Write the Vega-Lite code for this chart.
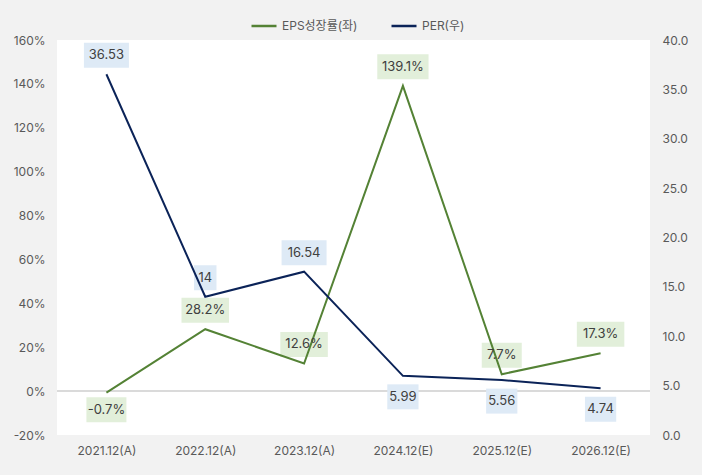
{
  "$schema": "https://vega.github.io/schema/vega-lite/v6.json",
  "width": 593,
  "height": 395,
  "autosize": {"type": "none"},
  "padding": {"left": 57, "top": 40, "right": 52, "bottom": 40},
  "background": "#f2f2f2",
  "config": {
    "font": "Inter, 'Noto Sans CJK KR', sans-serif",
    "locale": {"number": {"decimal": ".", "thousands": ",", "grouping": [3], "currency": ["$", ""], "minus": "-"}},
    "view": {"fill": "white", "stroke": null},
    "axis": {"labelColor": "#595959", "labelFontSize": 12, "grid": false, "domain": false, "ticks": false, "title": null}
  },
  "data": {
    "values": [
      {"period": "2021.12(A)", "eps": -0.007, "per": 36.53},
      {"period": "2022.12(A)", "eps": 0.282, "per": 14},
      {"period": "2023.12(A)", "eps": 0.126, "per": 16.54},
      {"period": "2024.12(E)", "eps": 1.391, "per": 5.99},
      {"period": "2025.12(E)", "eps": 0.077, "per": 5.56},
      {"period": "2026.12(E)", "eps": 0.173, "per": 4.74}
    ]
  },
  "resolve": {"scale": {"y": "independent", "shape": "independent"}},
  "layer": [
    {
      "layer": [
        {
          "mark": {"type": "rule", "color": "#d9d9d9", "strokeWidth": 1},
          "encoding": {"y": {"datum": 0, "type": "quantitative", "scale": {"domain": [-0.2, 1.6]},
            "axis": {"orient": "left", "format": ".0%", "values": [-0.2, 0, 0.2, 0.4, 0.6, 0.8, 1.0, 1.2, 1.4, 1.6], "labelPadding": 12}}}
        },
        {
          "transform": [{"filter": "datum.period != '2021.12(A)'"}],
          "mark": {"type": "point", "filled": true, "opacity": 1, "size": 625, "color": "#e2efda", "strokeWidth": 0, "yOffset": -19},
          "encoding": {
            "x": {"field": "period", "type": "ordinal", "scale": {"type": "point", "padding": 0.5}, "axis": {"labelAngle": 0, "labelPadding": 10}},
            "y": {"field": "eps", "type": "quantitative", "scale": {"domain": [-0.2, 1.6]},
              "axis": {"orient": "left", "format": ".0%", "values": [-0.2, 0, 0.2, 0.4, 0.6, 0.8, 1.0, 1.2, 1.4, 1.6], "labelPadding": 12}},
            "shape": {"field": "period", "type": "nominal", "legend": null,
              "scale": {"domain": ["2021.12(A)", "2022.12(A)", "2023.12(A)", "2024.12(E)", "2025.12(E)", "2026.12(E)"],
                "range": ["M-1.6,-1H1.6V1H-1.6Z", "M-1.9,-1H1.9V1H-1.9Z", "M-1.9,-1H1.9V1H-1.9Z", "M-2.05,-1H2.05V1H-2.05Z", "M-1.6,-1H1.6V1H-1.6Z", "M-1.9,-1H1.9V1H-1.9Z"]}}
          }
        },
        {
          "transform": [{"filter": "datum.period == '2021.12(A)'"}],
          "mark": {"type": "point", "filled": true, "opacity": 1, "size": 625, "color": "#e2efda", "strokeWidth": 0, "yOffset": 17},
          "encoding": {
            "x": {"field": "period", "type": "ordinal", "scale": {"type": "point", "padding": 0.5}, "axis": {"labelAngle": 0, "labelPadding": 10}},
            "y": {"field": "eps", "type": "quantitative", "scale": {"domain": [-0.2, 1.6]},
              "axis": {"orient": "left", "format": ".0%", "values": [-0.2, 0, 0.2, 0.4, 0.6, 0.8, 1.0, 1.2, 1.4, 1.6], "labelPadding": 12}},
            "shape": {"field": "period", "type": "nominal", "legend": null}
          }
        },
        {
          "mark": {"type": "line", "strokeWidth": 2},
          "encoding": {
            "x": {"field": "period", "type": "ordinal", "scale": {"type": "point", "padding": 0.5}, "axis": {"labelAngle": 0, "labelPadding": 10}},
            "y": {"field": "eps", "type": "quantitative", "scale": {"domain": [-0.2, 1.6]},
              "axis": {"orient": "left", "format": ".0%", "values": [-0.2, 0, 0.2, 0.4, 0.6, 0.8, 1.0, 1.2, 1.4, 1.6], "labelPadding": 12}},
            "color": {"datum": "EPS성장률(좌)", "type": "nominal",
              "scale": {"domain": ["EPS성장률(좌)", "PER(우)"], "range": ["#548235", "#0b2358"]},
              "legend": {"title": null, "orient": "none", "legendX": 193, "legendY": -28, "direction": "horizontal",
                "symbolType": "stroke", "symbolSize": 625, "symbolStrokeWidth": 2.5, "labelFontSize": 12, "labelColor": "#595959",
                "labelOffset": 4, "columnPadding": 28}}
          }
        },
        {
          "transform": [{"filter": "datum.period != '2021.12(A)'"}],
          "mark": {"type": "text", "fontSize": 13, "color": "#404040", "dy": -19},
          "encoding": {
            "x": {"field": "period", "type": "ordinal", "scale": {"type": "point", "padding": 0.5}, "axis": {"labelAngle": 0, "labelPadding": 10}},
            "y": {"field": "eps", "type": "quantitative", "scale": {"domain": [-0.2, 1.6]},
              "axis": {"orient": "left", "format": ".0%", "values": [-0.2, 0, 0.2, 0.4, 0.6, 0.8, 1.0, 1.2, 1.4, 1.6], "labelPadding": 12}},
            "text": {"field": "eps", "type": "quantitative", "format": ".1%"}
          }
        },
        {
          "transform": [{"filter": "datum.period == '2021.12(A)'"}],
          "mark": {"type": "text", "fontSize": 13, "color": "#404040", "dy": 17},
          "encoding": {
            "x": {"field": "period", "type": "ordinal", "scale": {"type": "point", "padding": 0.5}, "axis": {"labelAngle": 0, "labelPadding": 10}},
            "y": {"field": "eps", "type": "quantitative", "scale": {"domain": [-0.2, 1.6]},
              "axis": {"orient": "left", "format": ".0%", "values": [-0.2, 0, 0.2, 0.4, 0.6, 0.8, 1.0, 1.2, 1.4, 1.6], "labelPadding": 12}},
            "text": {"field": "eps", "type": "quantitative", "format": ".1%"}
          }
        }
      ]
    },
    {
      "layer": [
        {
          "transform": [{"filter": "datum.period < '2024'"}],
          "mark": {"type": "point", "filled": true, "opacity": 1, "size": 625, "color": "#deeaf6", "strokeWidth": 0, "yOffset": -19},
          "encoding": {
            "x": {"field": "period", "type": "ordinal", "scale": {"type": "point", "padding": 0.5}, "axis": {"labelAngle": 0, "labelPadding": 10}},
            "y": {"field": "per", "type": "quantitative", "scale": {"domain": [0, 40]},
              "axis": {"orient": "right", "format": ".1f", "values": [0, 5, 10, 15, 20, 25, 30, 35, 40], "labelPadding": 12}},
            "shape": {"field": "period", "type": "nominal", "legend": null,
              "scale": {"domain": ["2021.12(A)", "2022.12(A)", "2023.12(A)", "2024.12(E)", "2025.12(E)", "2026.12(E)"],
                "range": ["M-1.8,-1H1.8V1H-1.8Z", "M-0.9,-1H0.9V1H-0.9Z", "M-1.8,-1H1.8V1H-1.8Z", "M-1.25,-1H1.25V1H-1.25Z", "M-1.25,-1H1.25V1H-1.25Z", "M-1.25,-1H1.25V1H-1.25Z"]}}
          }
        },
        {
          "transform": [{"filter": "datum.period > '2024'"}],
          "mark": {"type": "point", "filled": true, "opacity": 1, "size": 625, "color": "#deeaf6", "strokeWidth": 0, "yOffset": 21},
          "encoding": {
            "x": {"field": "period", "type": "ordinal", "scale": {"type": "point", "padding": 0.5}, "axis": {"labelAngle": 0, "labelPadding": 10}},
            "y": {"field": "per", "type": "quantitative", "scale": {"domain": [0, 40]},
              "axis": {"orient": "right", "format": ".1f", "values": [0, 5, 10, 15, 20, 25, 30, 35, 40], "labelPadding": 12}},
            "shape": {"field": "period", "type": "nominal", "legend": null}
          }
        },
        {
          "mark": {"type": "line", "strokeWidth": 2},
          "encoding": {
            "x": {"field": "period", "type": "ordinal", "scale": {"type": "point", "padding": 0.5}, "axis": {"labelAngle": 0, "labelPadding": 10}},
            "y": {"field": "per", "type": "quantitative", "scale": {"domain": [0, 40]},
              "axis": {"orient": "right", "format": ".1f", "values": [0, 5, 10, 15, 20, 25, 30, 35, 40], "labelPadding": 12}},
            "color": {"datum": "PER(우)", "type": "nominal"}
          }
        },
        {
          "transform": [{"filter": "datum.period < '2024'"}],
          "mark": {"type": "text", "fontSize": 13, "color": "#404040", "dy": -19},
          "encoding": {
            "x": {"field": "period", "type": "ordinal", "scale": {"type": "point", "padding": 0.5}, "axis": {"labelAngle": 0, "labelPadding": 10}},
            "y": {"field": "per", "type": "quantitative", "scale": {"domain": [0, 40]},
              "axis": {"orient": "right", "format": ".1f", "values": [0, 5, 10, 15, 20, 25, 30, 35, 40], "labelPadding": 12}},
            "text": {"field": "per", "type": "quantitative", "format": "~f"}
          }
        },
        {
          "transform": [{"filter": "datum.period > '2024'"}],
          "mark": {"type": "text", "fontSize": 13, "color": "#404040", "dy": 21},
          "encoding": {
            "x": {"field": "period", "type": "ordinal", "scale": {"type": "point", "padding": 0.5}, "axis": {"labelAngle": 0, "labelPadding": 10}},
            "y": {"field": "per", "type": "quantitative", "scale": {"domain": [0, 40]},
              "axis": {"orient": "right", "format": ".1f", "values": [0, 5, 10, 15, 20, 25, 30, 35, 40], "labelPadding": 12}},
            "text": {"field": "per", "type": "quantitative", "format": "~f"}
          }
        }
      ]
    }
  ]
}
